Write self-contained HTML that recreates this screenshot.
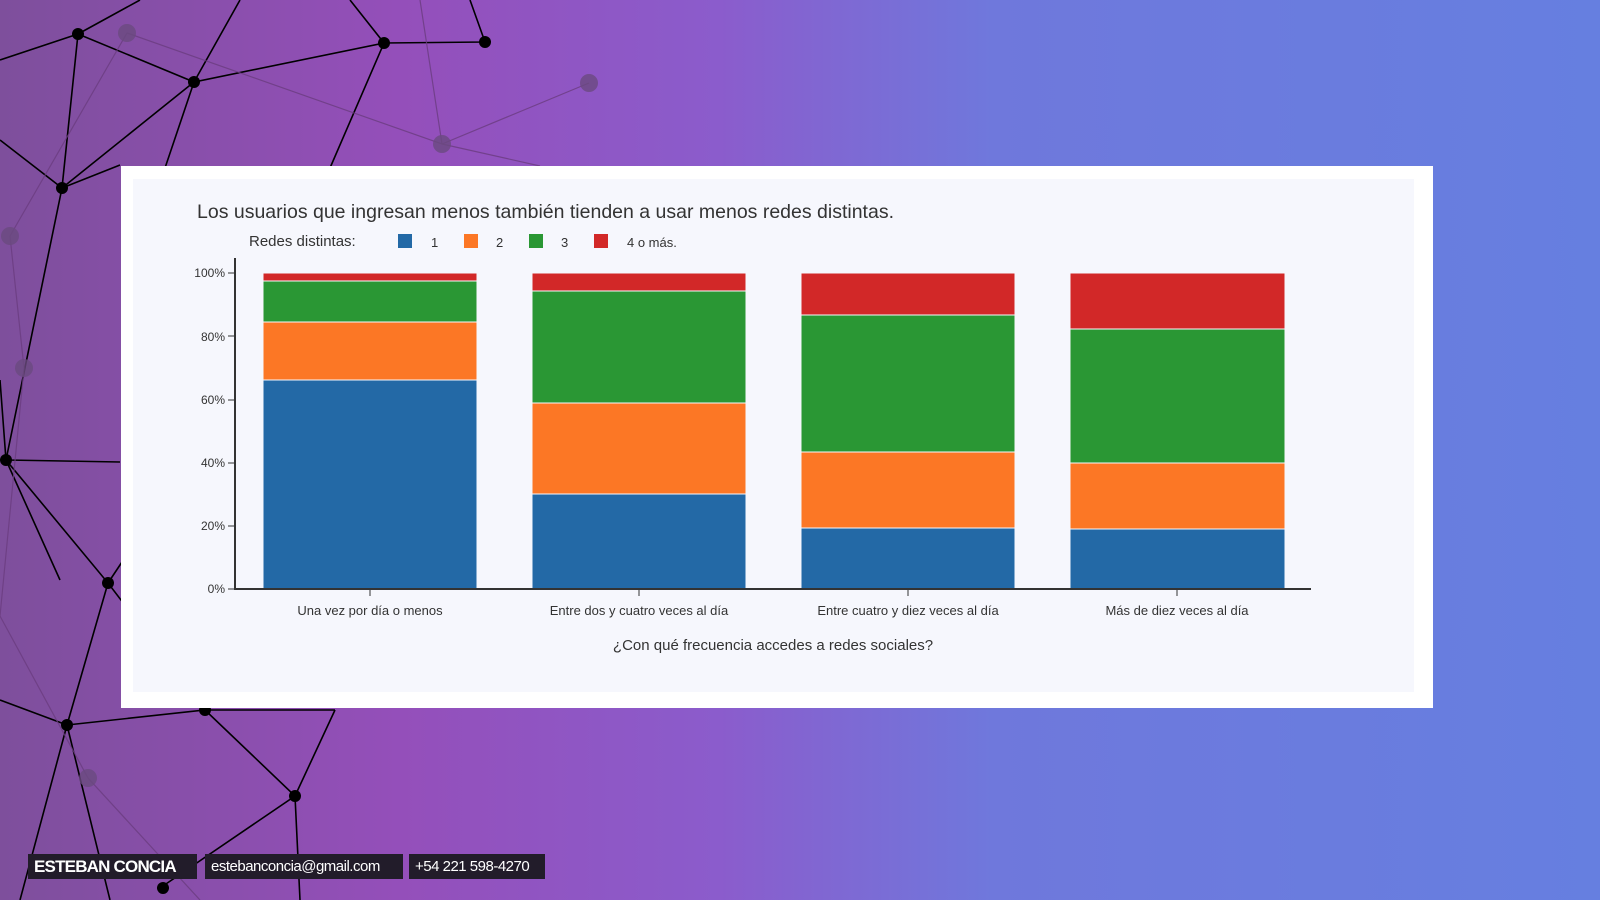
<!DOCTYPE html>
<html><head><meta charset="utf-8"><style>
html,body{margin:0;padding:0;width:1600px;height:900px;overflow:hidden}
body{background:linear-gradient(90deg,#7e4f9c 0%,#944fba 25%,#8b5ccc 45%,#6f78dc 62%,#667fe0 100%);font-family:"Liberation Sans",sans-serif;position:relative}
svg{position:absolute;left:0;top:0}
.box{position:absolute;top:854px;height:25px;line-height:25px;color:#fff;background:#221c2a;font-size:15px;padding:0 0 0 6px;white-space:nowrap;overflow:hidden;letter-spacing:-0.5px}
</style></head><body>
<svg width="1600" height="900">
<g stroke="#000" stroke-width="1.6" fill="none">
<path d="M78 34L194 82L384 43L485 42M78 34L62 188L6 460L108 583L67 725L205 710L295 796L160 888M194 82L62 188M384 43L194 82M384 43L330 168M78 34L0 60M78 34L140 0M194 82L165 168M62 188L0 140M62 188L120 165M6 460L120 462M6 460L0 380M108 583L205 710M108 583L150 520M67 725L0 700M67 725L20 900M205 710L335 710M295 796L335 710M295 796L300 900M194 82L240 0M485 42L470 0M384 43L350 0M6 460L60 580M67 725L110 900"/>
</g>
<g stroke="#6a3c80" stroke-width="1.2" fill="none" opacity="0.8">
<path d="M127 33L442 144L589 83M442 144L420 0M127 33L10 236M10 236L24 368M24 368L0 616M88 778L0 616M88 778L200 900M442 144L540 166"/>
</g>
<g fill="#000"><circle cx="78" cy="34" r="6"/><circle cx="194" cy="82" r="6"/><circle cx="384" cy="43" r="6"/><circle cx="485" cy="42" r="6"/><circle cx="62" cy="188" r="6"/><circle cx="6" cy="460" r="6"/><circle cx="108" cy="583" r="6"/><circle cx="67" cy="725" r="6"/><circle cx="205" cy="710" r="6"/><circle cx="295" cy="796" r="6"/><circle cx="163" cy="888" r="6"/></g>
<g fill="#6a4a80" opacity="0.8"><circle cx="127" cy="33" r="9"/><circle cx="442" cy="144" r="9"/><circle cx="589" cy="83" r="9"/><circle cx="10" cy="236" r="9"/><circle cx="24" cy="368" r="9"/><circle cx="88" cy="778" r="9"/></g>
<rect x="121" y="166" width="1312" height="542" fill="#fff"/>
<rect x="133" y="179" width="1281" height="513" fill="#f6f7fd"/>
<g font-family="Liberation Sans, sans-serif" fill="#333">
<text x="197" y="218" font-size="19.5">Los usuarios que ingresan menos también tienden a usar menos redes distintas.</text>
<text x="249" y="246" font-size="15">Redes distintas:</text>
<rect x="398" y="234" width="14" height="14" fill="#2369a6"/><text x="431" y="247" font-size="13">1</text>
<rect x="464" y="234" width="14" height="14" fill="#fc7725"/><text x="496" y="247" font-size="13">2</text>
<rect x="529" y="234" width="14" height="14" fill="#2a9734"/><text x="561" y="247" font-size="13">3</text>
<rect x="594" y="234" width="14" height="14" fill="#d22828"/><text x="627" y="247" font-size="13">4 o más.</text>
<g font-size="12" text-anchor="end">
<text x="225" y="277">100%</text><text x="225" y="341">80%</text><text x="225" y="404">60%</text><text x="225" y="467">40%</text><text x="225" y="530">20%</text><text x="225" y="593">0%</text>
</g>
<g stroke="#333" stroke-width="1"><path d="M228 273H235M228 336H235M228 400H235M228 463H235M228 526H235M228 589H235"/><path d="M370 589V596M639 589V596M908 589V596M1177 589V596"/></g>
<g stroke="#f6f7fd" stroke-width="1">
<rect x="263" y="380" width="214" height="209" fill="#2369a6"/><rect x="263" y="322" width="214" height="58" fill="#fc7725"/><rect x="263" y="281" width="214" height="41" fill="#2a9734"/><rect x="263" y="273" width="214" height="8" fill="#d22828"/>
<rect x="532" y="494" width="214" height="95" fill="#2369a6"/><rect x="532" y="403" width="214" height="91" fill="#fc7725"/><rect x="532" y="291" width="214" height="112" fill="#2a9734"/><rect x="532" y="273" width="214" height="18" fill="#d22828"/>
<rect x="801" y="528" width="214" height="61" fill="#2369a6"/><rect x="801" y="452" width="214" height="76" fill="#fc7725"/><rect x="801" y="315" width="214" height="137" fill="#2a9734"/><rect x="801" y="273" width="214" height="42" fill="#d22828"/>
<rect x="1070" y="529" width="215" height="60" fill="#2369a6"/><rect x="1070" y="463" width="215" height="66" fill="#fc7725"/><rect x="1070" y="329" width="215" height="134" fill="#2a9734"/><rect x="1070" y="273" width="215" height="56" fill="#d22828"/>
</g>
<path d="M235 258V589H1311" stroke="#333" stroke-width="2" fill="none"/>
<g font-size="13" text-anchor="middle">
<text x="370" y="615">Una vez por día o menos</text><text x="639" y="615">Entre dos y cuatro veces al día</text><text x="908" y="615">Entre cuatro y diez veces al día</text><text x="1177" y="615">Más de diez veces al día</text>
</g>
<text x="773" y="650" font-size="15" text-anchor="middle">¿Con qué frecuencia accedes a redes sociales?</text>
</g>
</svg>
<div class="box" style="left:28px;width:163px;font-weight:bold;font-size:17px;letter-spacing:-0.8px">ESTEBAN CONCIA</div>
<div class="box" style="left:205px;width:192px">estebanconcia@gmail.com</div>
<div class="box" style="left:409px;width:130px">+54 221 598-4270</div>
</body></html>
